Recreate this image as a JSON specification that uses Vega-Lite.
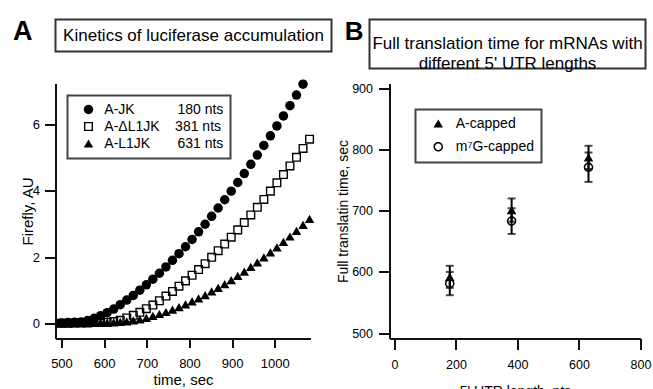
{
  "$schema": "https://vega.github.io/schema/vega-lite/v6.json",
  "background": "white",
  "padding": {"left": 11.5, "top": 16.5, "right": 0, "bottom": 0},
  "spacing": 5,
  "vconcat": [
    {
      "hconcat": [
        {
          "width": 276,
          "height": 32,
          "view": {"stroke": "#333", "strokeWidth": 2, "fill": null},
          "title": {"text": "A", "orient": "left", "anchor": "end", "angle": 0, "align": "left", "baseline": "top", "offset": 23, "fontSize": 27, "fontWeight": "bold", "font": "Liberation Sans", "color": "black", "dy": -1},
          "data": {"values": [{"label": "Kinetics of luciferase accumulation"}]},
          "mark": {"type": "text", "fontSize": 17, "font": "Liberation Sans", "color": "black"},
          "encoding": {"text": {"field": "label"}}
        },
        {
          "width": 276,
          "height": 49,
          "view": {"stroke": "#333", "strokeWidth": 2, "fill": null},
          "title": {"text": "B", "orient": "left", "anchor": "end", "angle": 0, "align": "left", "baseline": "top", "offset": 6, "fontSize": 26, "fontWeight": "bold", "font": "Liberation Sans", "color": "black", "dy": -0.5},
          "data": {"values": [{"label": "Full translation time for mRNAs with\ndifferent 5' UTR lengths"}]},
          "mark": {"type": "text", "fontSize": 17, "font": "Liberation Sans", "color": "black", "lineBreak": "\n", "lineHeight": 20},
          "encoding": {"text": {"field": "label"}}
        }
      ],
      "spacing": 38,
      "bounds": "flush"
    },
    {
      "hconcat": [
        {
          "width": 255,
          "height": 255,
          "data": {"values": [
            {"t": 500, "JK": 0.01, "dL1JK": 0.00, "L1JK": 0.00},
            {"t": 515.3, "JK": 0.02, "dL1JK": 0.00, "L1JK": 0.00},
            {"t": 530.6, "JK": 0.03, "dL1JK": 0.01, "L1JK": 0.00},
            {"t": 545.9, "JK": 0.04, "dL1JK": 0.01, "L1JK": 0.01},
            {"t": 561.2, "JK": 0.08, "dL1JK": 0.01, "L1JK": 0.01},
            {"t": 576.5, "JK": 0.15, "dL1JK": 0.02, "L1JK": 0.01},
            {"t": 591.8, "JK": 0.23, "dL1JK": 0.02, "L1JK": 0.02},
            {"t": 607.1, "JK": 0.32, "dL1JK": 0.03, "L1JK": 0.02},
            {"t": 622.4, "JK": 0.43, "dL1JK": 0.05, "L1JK": 0.03},
            {"t": 637.7, "JK": 0.56, "dL1JK": 0.09, "L1JK": 0.04},
            {"t": 653, "JK": 0.70, "dL1JK": 0.16, "L1JK": 0.06},
            {"t": 668.3, "JK": 0.84, "dL1JK": 0.24, "L1JK": 0.09},
            {"t": 683.6, "JK": 1.00, "dL1JK": 0.33, "L1JK": 0.12},
            {"t": 698.9, "JK": 1.16, "dL1JK": 0.44, "L1JK": 0.16},
            {"t": 714.2, "JK": 1.33, "dL1JK": 0.55, "L1JK": 0.22},
            {"t": 729.5, "JK": 1.51, "dL1JK": 0.68, "L1JK": 0.28},
            {"t": 744.8, "JK": 1.70, "dL1JK": 0.82, "L1JK": 0.34},
            {"t": 760.1, "JK": 1.90, "dL1JK": 0.96, "L1JK": 0.41},
            {"t": 775.4, "JK": 2.10, "dL1JK": 1.12, "L1JK": 0.49},
            {"t": 790.7, "JK": 2.31, "dL1JK": 1.28, "L1JK": 0.57},
            {"t": 806, "JK": 2.53, "dL1JK": 1.45, "L1JK": 0.66},
            {"t": 821.3, "JK": 2.76, "dL1JK": 1.62, "L1JK": 0.75},
            {"t": 836.6, "JK": 2.99, "dL1JK": 1.80, "L1JK": 0.85},
            {"t": 851.9, "JK": 3.23, "dL1JK": 1.99, "L1JK": 0.96},
            {"t": 867.2, "JK": 3.48, "dL1JK": 2.19, "L1JK": 1.07},
            {"t": 882.5, "JK": 3.73, "dL1JK": 2.39, "L1JK": 1.18},
            {"t": 897.8, "JK": 3.99, "dL1JK": 2.60, "L1JK": 1.30},
            {"t": 913.1, "JK": 4.25, "dL1JK": 2.82, "L1JK": 1.43},
            {"t": 928.4, "JK": 4.52, "dL1JK": 3.04, "L1JK": 1.56},
            {"t": 943.7, "JK": 4.80, "dL1JK": 3.27, "L1JK": 1.70},
            {"t": 959, "JK": 5.08, "dL1JK": 3.50, "L1JK": 1.84},
            {"t": 974.3, "JK": 5.37, "dL1JK": 3.74, "L1JK": 1.99},
            {"t": 989.6, "JK": 5.66, "dL1JK": 3.99, "L1JK": 2.14},
            {"t": 1004.9, "JK": 5.96, "dL1JK": 4.24, "L1JK": 2.29},
            {"t": 1020.2, "JK": 6.26, "dL1JK": 4.49, "L1JK": 2.46},
            {"t": 1035.5, "JK": 6.57, "dL1JK": 4.75, "L1JK": 2.62},
            {"t": 1050.8, "JK": 6.89, "dL1JK": 5.01, "L1JK": 2.79},
            {"t": 1066.1, "JK": 7.22, "dL1JK": 5.28, "L1JK": 2.97},
            {"t": 1081.4, "JK": null, "dL1JK": 5.56, "L1JK": 3.15}
          ]},
          "transform": [{"fold": ["JK", "dL1JK", "L1JK"], "as": ["series", "y"]}],
          "mark": {"type": "point", "size": 90, "filled": true, "color": "black", "opacity": 1},
          "encoding": {
            "x": {"field": "t", "type": "quantitative", "title": "time, sec",
                  "scale": {"domain": [486, 1083.6], "nice": false, "zero": false},
                  "axis": {"values": [500, 600, 700, 800, 900, 1000], "format": "d", "tickSize": 9, "labelPadding": 10, "titlePadding": 2, "labelFontSize": 13, "titleFontSize": 15}},
            "y": {"field": "y", "type": "quantitative", "title": "Firefly, AU",
                  "scale": {"domain": [-0.46, 7.24], "nice": false, "zero": false},
                  "axis": {"values": [0, 2, 4, 6], "tickSize": 11, "labelPadding": 5, "titlePadding": -3, "labelFontSize": 13, "titleFontSize": 15}},
            "shape": {"field": "series", "type": "nominal",
                      "scale": {"domain": ["JK", "dL1JK", "L1JK"], "range": ["circle", "M-0.95,-0.95H0.95V0.95H-0.95ZM-0.66,-0.66V0.66H0.66V-0.66Z", "triangle-up"]},
                      "legend": {"title": null, "orient": "top-left", "offset": 12, "padding": 7, "rowPadding": 1, "symbolSize": 90, "symbolOffset": 7, "labelOffset": 8.8,
                                 "strokeColor": "#444", "fillColor": "white",
                                 "labelExpr": "datum.label === 'JK' ? 'A-JK\u00a0\u00a0\u00a0\u00a0\u00a0\u00a0\u00a0\u00a0\u00a0\u00a0\u00a0180 nts' : datum.label === 'dL1JK' ? 'A-\u0394L1JK\u00a0\u00a0\u00a0\u00a0381 nts' : 'A-L1JK\u00a0\u00a0\u00a0\u00a0\u00a0\u00a0\u00a0631 nts'",
                                 "encode": {"symbols": {"fill": {"value": "black"}}}}}
          }
        },
        {
          "width": 251,
          "height": 255,
          "data": {"values": [
            {"len": 180, "cap": "A-capped", "time": 592, "lo": 574, "hi": 610},
            {"len": 381, "cap": "A-capped", "time": 701, "lo": 682, "hi": 720},
            {"len": 631, "cap": "A-capped", "time": 787, "lo": 768, "hi": 806},
            {"len": 180, "cap": "m\u2077G-capped", "time": 581, "lo": 562, "hi": 600},
            {"len": 381, "cap": "m\u2077G-capped", "time": 683, "lo": 662, "hi": 704},
            {"len": 631, "cap": "m\u2077G-capped", "time": 771, "lo": 747, "hi": 795}
          ]},
          "encoding": {
            "x": {"field": "len", "type": "quantitative", "title": "5' UTR length, nts",
                  "scale": {"domain": [-16, 800], "nice": false, "zero": false},
                  "axis": {"values": [0, 200, 400, 600, 800], "tickSize": 11, "labelPadding": 8.6, "titlePadding": 14, "labelFontSize": 12.5, "titleFontSize": 14}}
          },
          "layer": [
            {
              "mark": {"type": "errorbar", "ticks": true, "size": 8, "thickness": 2, "color": "black"},
              "encoding": {
                "y": {"field": "lo", "type": "quantitative", "title": "Full translatin time, sec"},
                "y2": {"field": "hi"}
              }
            },
            {
              "mark": {"type": "point", "size": 90, "filled": true, "color": "black", "opacity": 1},
              "encoding": {
                "y": {"field": "time", "type": "quantitative", "title": "Full translatin time, sec",
                      "scale": {"domain": [491.3, 907.7], "nice": false, "zero": false},
                      "axis": {"values": [500, 600, 700, 800, 900], "tickSize": 11, "labelPadding": 6, "titlePadding": 1, "labelFontSize": 12.5, "titleFontSize": 14}},
                "shape": {"field": "cap", "type": "nominal",
                          "scale": {"domain": ["A-capped", "m\u2077G-capped"], "range": ["triangle-up", "M1,0A1,1,0,1,1,-1,0A1,1,0,1,1,1,0ZM0.7,0A0.7,0.7,0,1,0,-0.7,0A0.7,0.7,0,1,0,0.7,0Z"]},
                          "legend": {"title": null, "orient": "top-left", "offset": 26, "padding": 7, "rowPadding": 7.3, "symbolSize": 90, "symbolOffset": 8.75, "labelOffset": 10.5,
                                     "strokeColor": "#444", "fillColor": "white",
                                     "encode": {"symbols": {"fill": {"value": "black"}}}}}
              }
            }
          ]
        }
      ],
      "spacing": 79,
      "bounds": "flush",
      "resolve": {"scale": {"shape": "independent"}, "legend": {"shape": "independent"}}
    }
  ],
  "config": {
    "font": "Liberation Sans",
    "view": {"stroke": null},
    "axis": {
      "domainColor": "#111", "domainWidth": 2, "tickColor": "#111", "tickWidth": 2,
      "labelColor": "black", "titleColor": "black", "titleFontWeight": "normal",
      "grid": false, "labelFlush": false, "labelOverlap": false,
      "labelFont": "Liberation Sans", "titleFont": "Liberation Sans"
    },
    "legend": {"labelFont": "Liberation Sans", "labelColor": "black", "labelFontSize": 14, "labelLimit": 0, "padding": 7,
               "strokeColor": "#444", "strokeWidth": 2}
  }
}
